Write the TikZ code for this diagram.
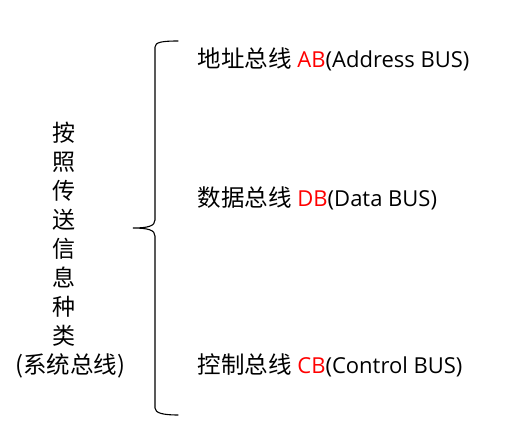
\documentclass[tikz,border=0pt]{standalone}
\usepackage{fontspec}
\setmainfont{Open Sans}
\newfontfamily\cjk{Noto Sans CJK SC}
\definecolor{abbrev}{HTML}{FF0000}
\newcommand\busname[1]{{\cjk\fontsize{23.5}{29}\selectfont #1}}

\begin{document}
\begin{tikzpicture}[x=1pt,y=-1pt,
 kind/.style={anchor=base,inner sep=0pt,font=\cjk\fontsize{23}{29}\selectfont},
 bus/.style={anchor=base west,inner sep=0pt,font=\fontsize{22}{29}\selectfont},
 brace/.style={draw=black,line width=1.1pt,line cap=round}
]
\useasboundingbox (0,0) rectangle (516,432);
% vertical caption on the left
\foreach \ch [count=\i] in {按,照,传,送,信,息,种,类}
 \node[kind] (kind\i) at (63.5,{112.8+29*\i}) {\ch};
\node[kind,font=\cjk\fontsize{23.5}{29}\selectfont] (system) at (70,373.8) {(系统总线)};
% the brace
\coordinate (tip) at (133,228);
\draw[brace] (178,41) .. controls (163,41) and (155,42) .. (155,47) -- (155,220)
 .. controls (155,226) and (148,228) .. (tip)
 .. controls (148,228) and (155,230) .. (155,236) -- (155,408)
 .. controls (155,413) and (163,415) .. (178,415);
% the three buses
\node[bus] (ab) at (197.5,67.8) {\busname{地址总线} \textcolor{abbrev}{AB}(Address BUS)};
\node[bus] (db) at (197.5,206.8) {\busname{数据总线} \textcolor{abbrev}{DB}(Data BUS)};
\node[bus] (cb) at (197.5,373.8) {\busname{控制总线} \textcolor{abbrev}{CB}(Control BUS)};
\end{tikzpicture}
\end{document}
